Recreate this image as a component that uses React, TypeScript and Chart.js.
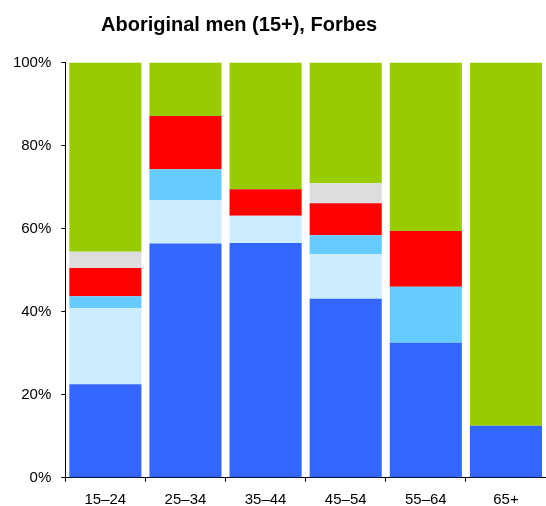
import React, { useEffect, useRef } from "react";
import { Chart, registerables } from "chart.js";

Chart.register(...registerables);

const categories = ["15–24", "25–34", "35–44", "45–54", "55–64", "65+"];
const seriesNames = ["s1", "s2", "s3", "s4", "s5", "s6"];
const blueVals = [22.5, 56.4, 56.5, 43.1, 32.5, 12.5];
const lightBlueVals = [18.3, 10.4, 6.6, 10.7, 0, 0];
const skyBlueVals = [2.9, 7.5, 0, 4.6, 13.5, 0];
const redVals = [6.8, 12.8, 6.4, 7.7, 13.4, 0];
const greyVals = [3.9, 0, 0, 4.8, 0, 0];
const greenVals = [45.6, 12.9, 30.5, 29.1, 40.6, 87.5];
const yTicks = [0, 20, 40, 60, 80, 100];
const titleText = "Aboriginal men (15+), Forbes";

const colors = ["#3366FF", "#CCECFF", "#66CCFF", "#FF0000", "#DDDDDD", "#99CC00"];

export default function App() {
  const ref = useRef<HTMLCanvasElement | null>(null);
  useEffect(() => {
    if (!ref.current) return;
    const all = [blueVals, lightBlueVals, skyBlueVals, redVals, greyVals, greenVals];
    const chart = new Chart(ref.current, {
      type: "bar",
      data: {
        labels: categories,
        datasets: all.map((d, i) => ({
          label: seriesNames[i],
          data: d,
          backgroundColor: colors[i],
          borderWidth: 0,
          barPercentage: 0.9,
          categoryPercentage: 1.0,
        })),
      },
      options: {
        animation: false,
        responsive: false,
        maintainAspectRatio: false,
        layout: { padding: { top: 62.5, left: 0, right: 0, bottom: 0 } },
        plugins: {
          legend: { display: false },
          title: { display: false },
          tooltip: { enabled: false },
        },
        scales: {
          x: {
            stacked: true,
            offset: true,
            grid: {
              offset: true,
              drawOnChartArea: false,
              drawTicks: true,
              tickLength: 4,
              color: "#000",
            },
            border: { display: true, color: "#000", width: 1 },
            ticks: {
              color: "#000",
              font: { family: "Liberation Sans, Arial, sans-serif", size: 15 },
              padding: 9,
              maxRotation: 0,
              autoSkip: false,
            },
            afterFit: (s: any) => {
              s.height = 28.3;
            },
          },
          y: {
            stacked: true,
            min: 0,
            max: 100,
            afterBuildTicks: (s: any) => {
              s.ticks = yTicks.map((v) => ({ value: v }));
            },
            grid: {
              drawOnChartArea: false,
              drawTicks: true,
              tickLength: 4,
              color: "#000",
            },
            border: { display: true, color: "#000", width: 1 },
            ticks: {
              color: "#000",
              font: { family: "Liberation Sans, Arial, sans-serif", size: 15 },
              padding: 10,
              callback: (v: any) => v + "%",
            },
            afterFit: (s: any) => {
              s.width = 65.3;
            },
          },
        },
      },
    });
    return () => chart.destroy();
  }, []);
  return (
    <div style={{ position: "absolute", left: 0, top: 0, width: 546, height: 506, overflow: "hidden" }}>
      <div
        style={{
          position: "absolute",
          left: 101,
          top: 12,
          fontFamily: "Liberation Sans, Arial, sans-serif",
          fontWeight: "bold",
          fontSize: 20,
          color: "#000",
          whiteSpace: "nowrap",
          lineHeight: "24px",
        }}
      >
        {titleText}
      </div>
      <canvas ref={ref} width={546} height={506} style={{ display: "block" }} />
    </div>
  );
}
